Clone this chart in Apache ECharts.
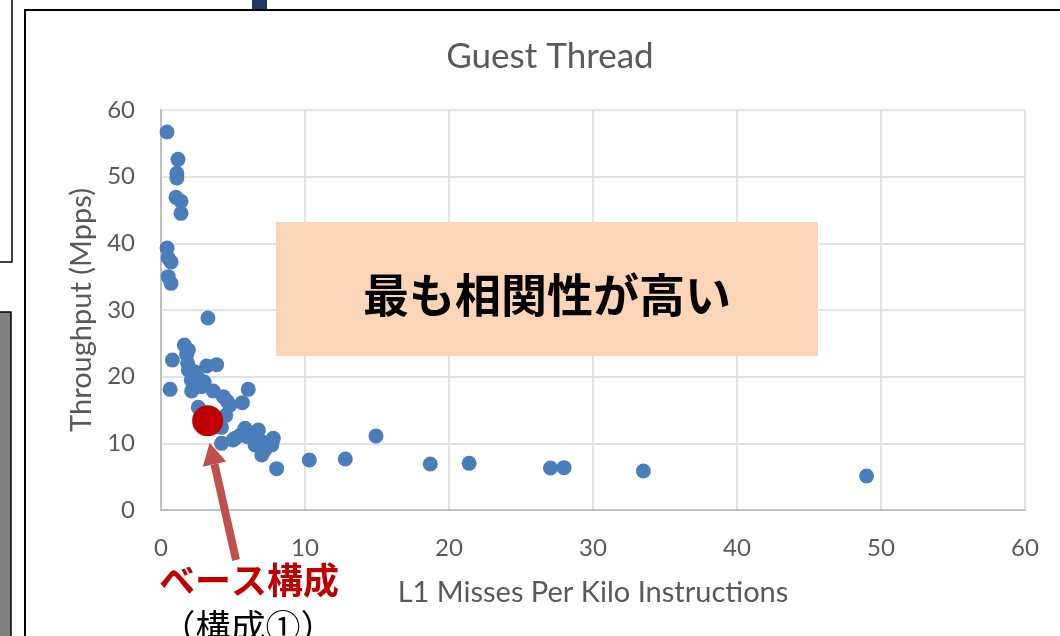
<!DOCTYPE html>
<html>
<head>
<meta charset="utf-8">
<script src="https://cdn.jsdelivr.net/npm/echarts@6/dist/echarts.min.js"></script>
<style>
  html, body { margin: 0; padding: 0; background: #ffffff; }
  #chart { width: 1060px; height: 636px; }
</style>
</head>
<body>
<div id="chart"></div>
<script>
// L1 misses per kilo instructions (x) vs throughput in Mpps (y), one point per configuration
const l1Mpki = [
  0.42, 1.18, 1.1, 1.1, 1.04, 1.39, 1.39, 0.42, 0.5, 0.7, 0.5, 0.7,
  3.26, 1.62, 1.9, 1.78, 0.79, 1.9, 3.17, 3.86, 2.36, 2.59, 2.1, 0.63,
  2.13, 2.8, 3.63, 4.33, 6.06, 4.79, 5.65, 2.59, 4.2, 4.2, 5.14, 5.83,
  6.76, 7.8, 7.69, 6.53, 7.0, 8.03, 14.93, 10.3, 12.8, 18.7, 21.4, 27.05,
  27.99, 33.5, 49.0, 7.74, 4.5, 3.9, 5.5, 6.3, 6.9, 7.2, 3.0, 4.6,
  2.2, 1.85, 5.0, 6.0
];
const throughput = [
  56.7, 52.6, 50.5, 49.8, 46.9, 46.3, 44.5, 39.3, 37.8, 37.2, 35.0, 34.0,
  28.8, 24.75, 24.0, 23.3, 22.5, 21.0, 21.6, 21.8, 20.7, 19.75, 19.5, 18.1,
  17.85, 18.5, 17.85, 17.0, 18.1, 15.75, 16.1, 15.4, 12.4, 10.0, 10.75, 12.25,
  12.0, 10.75, 9.75, 9.75, 8.25, 6.2, 11.1, 7.5, 7.65, 6.9, 7.0, 6.3,
  6.35, 5.85, 5.1, 10.4, 14.2, 12.5, 11.2, 11.6, 10.4, 9.0, 19.2, 16.3,
  20.8, 22.0, 10.5, 11.0
];
// Base configuration (構成①)
const baseMpki = [3.24];
const baseThroughput = [13.4];

const xTicks = [0, 10, 20, 30, 40, 50, 60];
const yTicks = [0, 10, 20, 30, 40, 50, 60];

const chart = echarts.init(document.getElementById('chart'));
const font = 'Lato, Open Sans, sans-serif';
const cjk = 'Noto Sans CJK JP, sans-serif';

const option = {
  animation: false,
  title: {
    text: 'Guest Thread',
    left: 545, top: 34, textAlign: 'center',
    textStyle: { color: '#595959', fontSize: 35, fontWeight: 'normal', fontFamily: font }
  },
  grid: { left: 161, top: 110, right: 35, bottom: 126 },
  xAxis: {
    type: 'value',
    min: xTicks[0], max: xTicks[xTicks.length - 1], interval: 10,
    name: 'L1 Misses Per Kilo Instructions',
    nameLocation: 'middle', nameGap: 68,
    nameTextStyle: { color: '#595959', fontSize: 29, fontFamily: font },
    axisLine: { lineStyle: { color: '#bfbfbf', width: 2 } },
    axisTick: { show: false },
    axisLabel: { color: '#595959', fontSize: 24, margin: 26, fontFamily: font },
    splitLine: { lineStyle: { color: '#d9d9d9', width: 1.5 } }
  },
  yAxis: {
    type: 'value',
    min: yTicks[0], max: yTicks[yTicks.length - 1], interval: 10,
    name: 'Throughput (Mpps)',
    nameLocation: 'middle', nameGap: 64, nameRotate: 90,
    nameTextStyle: { color: '#595959', fontSize: 29, fontFamily: font },
    axisLine: { show: true, lineStyle: { color: '#bfbfbf', width: 2 } },
    axisTick: { show: false },
    axisLabel: { color: '#595959', fontSize: 24, margin: 26, fontFamily: font },
    splitLine: { lineStyle: { color: '#d9d9d9', width: 1.5 } }
  },
  series: [
    {
      type: 'scatter',
      data: l1Mpki.map((x, i) => [x, throughput[i]]),
      symbolSize: 15,
      itemStyle: { color: '#4a7ebb', opacity: 1 },
      z: 3
    },
    {
      type: 'scatter',
      data: baseMpki.map((x, i) => [x, baseThroughput[i]]),
      symbolSize: 31,
      itemStyle: { color: '#c00000', opacity: 1 },
      z: 4
    }
  ]
};
chart.setOption(option);

// Annotations: frames, highlight box, arrow to the base configuration and its label
const base = chart.convertToPixel({ gridIndex: 0 }, [baseMpki[0], baseThroughput[0]]);
const tip = [base[0] + 2, base[1] + 22];
const tail = [236, 560];
const dx = tip[0] - tail[0], dy = tip[1] - tail[1];
const len = Math.sqrt(dx * dx + dy * dy);
const ux = dx / len, uy = dy / len;
const headLen = 22, headHalf = 12;
const hb = [tip[0] - ux * headLen, tip[1] - uy * headLen];

chart.setOption({
  graphic: [
    // neighbouring panels at the edges
    { type: 'polyline', shape: { points: [[12, 0], [12, 262], [0, 262]] },
      style: { stroke: '#000', lineWidth: 1.5, fill: null }, z: 10 },
    { type: 'rect', shape: { x: -2, y: 312, width: 13, height: 340 },
      style: { fill: '#808080', stroke: '#000', lineWidth: 1.5 }, z: 10 },
    { type: 'rect', shape: { x: 252, y: -2, width: 15, height: 12 },
      style: { fill: '#1f3864' }, z: 10 },
    // chart frame
    { type: 'rect', shape: { x: 25, y: 10, width: 1060, height: 700 },
      style: { fill: null, stroke: '#000', lineWidth: 2 }, z: 10 },
    // highlight box
    { type: 'rect', shape: { x: 276, y: 222, width: 542, height: 134 },
      style: { fill: '#fbd5b5' }, z: 5 },
    { type: 'text', x: 547, y: 295,
      style: { text: '最も相関性が高い', fill: '#000', font: 'bold 46px ' + cjk,
               align: 'center', verticalAlign: 'middle' }, z: 6 },
    // arrow
    { type: 'line', shape: { x1: tail[0], y1: tail[1], x2: hb[0], y2: hb[1] },
      style: { stroke: '#c0504d', lineWidth: 8 }, z: 6 },
    { type: 'polygon', shape: { points: [
        tip,
        [hb[0] - uy * headHalf, hb[1] + ux * headHalf],
        [hb[0] + uy * headHalf, hb[1] - ux * headHalf]
      ] }, style: { fill: '#c0504d' }, z: 6 },
    { type: 'text', x: 249, y: 580,
      style: { text: 'ベース構成', fill: '#c00000', font: 'bold 36px ' + cjk,
               align: 'center', verticalAlign: 'middle' }, z: 6 },
    { type: 'text', x: 248, y: 627,
      style: { text: '（構成①）', fill: '#000', font: '35px ' + cjk,
               align: 'center', verticalAlign: 'middle' }, z: 6 }
  ]
});
</script>
</body>
</html>
